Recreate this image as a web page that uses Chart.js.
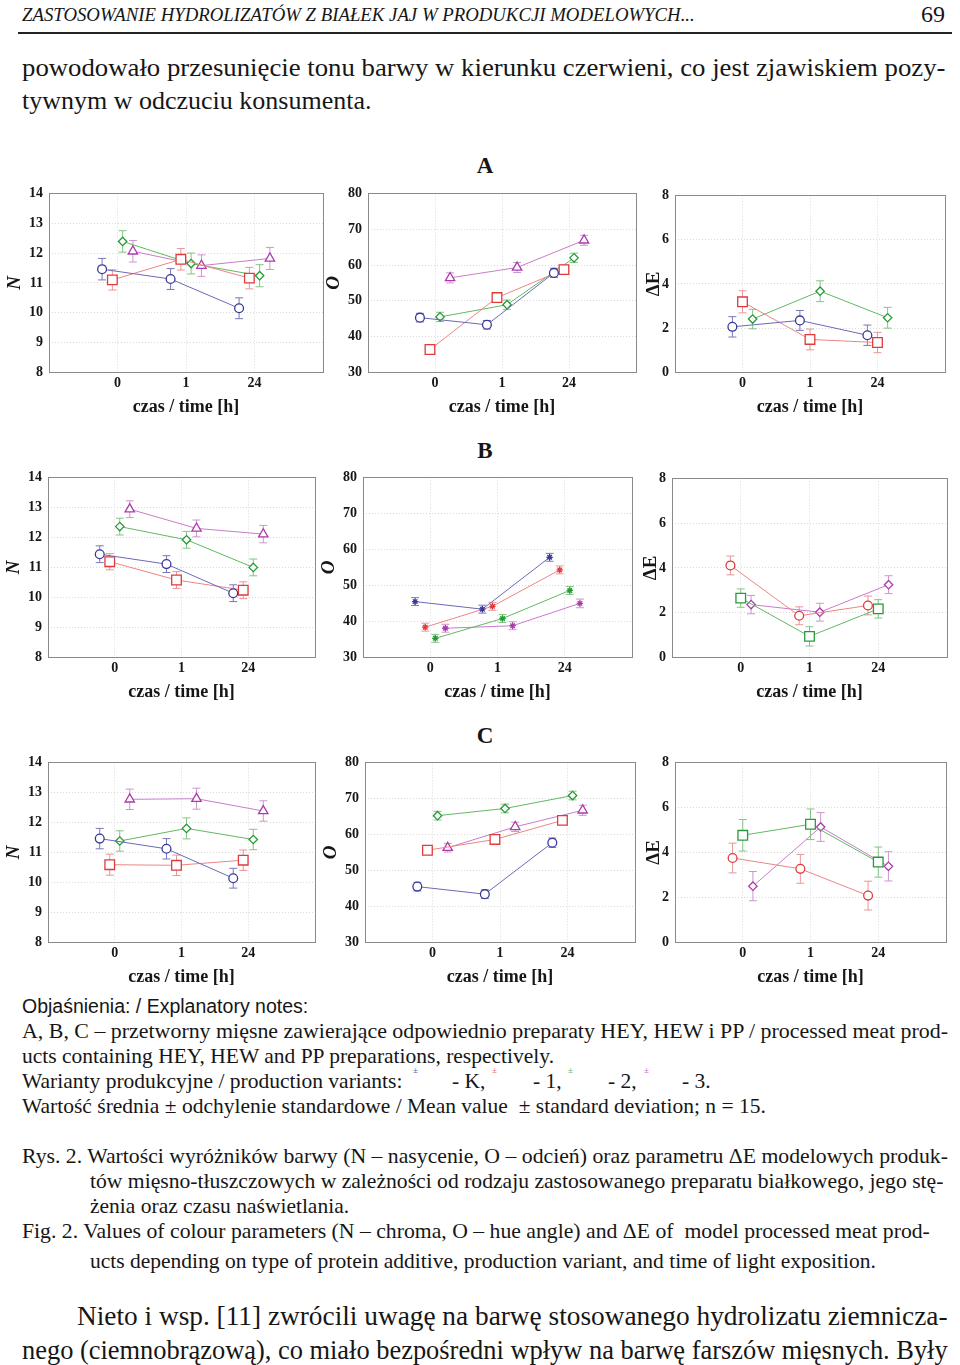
<!DOCTYPE html>
<html>
<head>
<meta charset="utf-8">
<script src="https://cdn.jsdelivr.net/npm/chart.js@4.4.1/dist/chart.umd.min.js"></script>
<style>
  body { margin: 0; background: #fff; }
  #page { position: relative; width: 960px; height: 1365px; overflow: hidden;
          font-family: "Liberation Serif", "Times New Roman", serif; color: #161616; }
  .t { position: absolute; white-space: nowrap; transform-origin: 0 50%; }
  .panel { position: absolute; }
  .sec { position: absolute; width: 40px; text-align: center; font-weight: bold; font-size: 23px; }
  .mk { position: absolute; font-size: 9px; line-height: 9px; }
  .s21 { font-size: 21.5px; line-height: 26px; }
</style>
</head>
<body>
<div id="page">
  <div class="t fit" data-w="673" style="left:22px;top:3px;font-size:18px;line-height:24px;font-style:italic;">ZASTOSOWANIE HYDROLIZATÓW Z BIAŁEK JAJ W PRODUKCJI MODELOWYCH...</div>
  <div class="t" style="left:921px;top:0px;font-size:24px;line-height:28px;">69</div>
  <div style="position:absolute;left:18px;top:32px;width:934px;height:2px;background:#222;"></div>

  <div class="t fit" data-w="923" style="left:22px;top:52px;font-size:26px;line-height:32px;">powodowało przesunięcie tonu barwy w kierunku czerwieni, co jest zjawiskiem pozy-</div>
  <div class="t" style="left:22px;top:85px;font-size:26px;line-height:32px;">tywnym w odczuciu konsumenta.</div>

  <div class="sec" style="left:465px;top:153px;">A</div>
  <div class="sec" style="left:465px;top:438px;">B</div>
  <div class="sec" style="left:465px;top:723px;">C</div>

  <div class="panel" id="p_aN"><canvas></canvas></div>
  <div class="panel" id="p_aO"><canvas></canvas></div>
  <div class="panel" id="p_aE"><canvas></canvas></div>
  <div class="panel" id="p_bN"><canvas></canvas></div>
  <div class="panel" id="p_bO"><canvas></canvas></div>
  <div class="panel" id="p_bE"><canvas></canvas></div>
  <div class="panel" id="p_cN"><canvas></canvas></div>
  <div class="panel" id="p_cO"><canvas></canvas></div>
  <div class="panel" id="p_cE"><canvas></canvas></div>

  <div class="t" style="left:22px;top:994px;font-family:'Liberation Sans',Arial,sans-serif;font-size:19.5px;line-height:24px;">Objaśnienia: / Explanatory notes:</div>
  <div class="t s21 fit" data-w="926" style="left:22px;top:1018px;">A, B, C – przetworny mięsne zawierające odpowiednio preparaty HEY, HEW i PP / processed meat prod-</div>
  <div class="t s21" style="left:22px;top:1043px;">ucts containing HEY, HEW and PP preparations, respectively.</div>
  <div class="t s21" style="left:22px;top:1068px;">Warianty produkcyjne / production variants:</div>
  <div class="mk" style="left:413px;top:1066px;color:#5a5ab0;">±</div>
  <div class="t s21" style="left:452px;top:1068px;">- K,</div>
  <div class="mk" style="left:492px;top:1066px;color:#e07070;">±</div>
  <div class="t s21" style="left:533px;top:1068px;">- 1,</div>
  <div class="mk" style="left:568px;top:1066px;color:#60b060;">±</div>
  <div class="t s21" style="left:608px;top:1068px;">- 2,</div>
  <div class="mk" style="left:644px;top:1066px;color:#c070c0;">±</div>
  <div class="t s21" style="left:682px;top:1068px;">- 3.</div>
  <div class="t s21" style="left:22px;top:1093px;">Wartość średnia ± odchylenie standardowe / Mean value &nbsp;± standard deviation; n = 15.</div>

  <div class="t s21 fit" data-w="926" style="left:22px;top:1143px;">Rys. 2. Wartości wyróżników barwy (N – nasycenie, O – odcień) oraz parametru ΔE modelowych produk-</div>
  <div class="t s21 fit" data-w="853" style="left:90px;top:1168px;">tów mięsno-tłuszczowych w zależności od rodzaju zastosowanego preparatu białkowego, jego stę-</div>
  <div class="t s21" style="left:90px;top:1193px;">żenia oraz czasu naświetlania.</div>
  <div class="t s21 fit" data-w="908" style="left:22px;top:1218px;">Fig. 2. Values of colour parameters (N – chroma, O – hue angle) and ΔE of &nbsp;model processed meat prod-</div>
  <div class="t s21" style="left:90px;top:1248px;">ucts depending on type of protein additive, production variant, and time of light exposition.</div>

  <div class="t fit" data-w="871" style="left:77px;top:1300px;font-size:26.5px;line-height:32px;">Nieto i wsp. [11] zwrócili uwagę na barwę stosowanego hydrolizatu ziemnicza-</div>
  <div class="t fit" data-w="926" style="left:22px;top:1334px;font-size:26.5px;line-height:32px;">nego (ciemnobrązową), co miało bezpośredni wpływ na barwę farszów mięsnych. Były</div>
</div>

<script>
// czas naświetlania
const timeLabels = ['0', '1', '24'];

// A – HEY (rows: series, cols: time)
const aN_mean = [[11.46, 11.13, 10.15], [11.10, 11.79, 11.16], [12.39, 11.65, 11.24], [12.06, 11.58, 11.82]];
const aN_sd   = [[0.36, 0.35, 0.35], [0.34, 0.36, 0.36], [0.36, 0.35, 0.37], [0.36, 0.36, 0.37]];
const aO_mean = [[45.3, 43.3, 57.8], [36.4, 50.9, 58.7], [45.5, 48.9, 62.0], [56.4, 59.3, 66.9]];
const aO_sd   = [[1.2, 1.2, 1.3], [1.3, 1.2, 1.3], [1.3, 1.3, 1.3], [1.4, 1.4, 1.4]];
const aE_mean = [[2.06, 2.35, 1.68], [3.19, 1.49, 1.35], [2.41, 3.67, 2.47]];
const aE_sd   = [[0.46, 0.45, 0.46], [0.50, 0.47, 0.46], [0.44, 0.47, 0.47]];

// B – HEW
const bN_mean = [[11.44, 11.11, 10.14], [11.19, 10.58, 10.24], [12.36, 11.92, 11.00], [12.94, 12.30, 12.11]];
const bN_sd   = [[0.28, 0.28, 0.28], [0.27, 0.28, 0.28], [0.28, 0.28, 0.28], [0.28, 0.28, 0.29]];
const bO_mean = [[45.5, 43.4, 57.8], [38.4, 44.2, 54.3], [35.3, 40.8, 48.6], [38.1, 38.8, 45.0]];
const bO_sd   = [[1.1, 1.1, 1.1], [1.1, 1.1, 1.1], [1.1, 1.1, 1.1], [1.1, 1.1, 1.2]];
const bE_mean = [[4.11, 1.86, 2.32], [2.65, 0.94, 2.17], [2.36, 2.02, 3.25]];
const bE_sd   = [[0.42, 0.40, 0.42], [0.41, 0.43, 0.41], [0.41, 0.40, 0.40]];

// C – PP
const cN_mean = [[11.46, 11.12, 10.14], [10.59, 10.57, 10.74], [11.38, 11.80, 11.43], [12.77, 12.79, 12.38]];
const cN_sd   = [[0.34, 0.34, 0.33], [0.35, 0.34, 0.34], [0.34, 0.35, 0.34], [0.34, 0.35, 0.34]];
const cO_mean = [[45.5, 43.4, 57.7], [55.6, 58.6, 63.9], [65.2, 67.2, 70.8], [56.3, 62.1, 66.7]];
const cO_sd   = [[1.2, 1.2, 1.3], [1.2, 1.1, 1.1], [1.2, 1.2, 1.2], [1.2, 1.3, 1.4]];
const cE_mean = [[3.75, 3.27, 2.08], [4.76, 5.25, 3.57], [2.50, 5.13, 3.38]];
const cE_sd   = [[0.66, 0.64, 0.64], [0.70, 0.68, 0.67], [0.65, 0.64, 0.65]];

// kolory serii: marker, linia, słupek błędu
const palette = {
  blue:    { mark: '#38389a', line: '#6a6ab6', err: '#7878b8' },
  red:     { mark: '#e03a3a', line: '#ee8484', err: '#e89696' },
  green:   { mark: '#279a38', line: '#62b862', err: '#84c484' },
  magenta: { mark: '#ad3aad', line: '#c87cc8', err: '#cc96cc' }
};
const shapeRadius = { circle: 4.4, rect: 6.8, rectRot: 4.2, triangle: 5.4, star: 3.2 };

const styleNO = [['blue', 'circle'], ['red', 'rect'], ['green', 'rectRot'], ['magenta', 'triangle']];
const styleStar = [['blue', 'star'], ['red', 'star'], ['green', 'star'], ['magenta', 'star']];

const yN = { min: 8, max: 14, step: 1, title: 'N', italic: true };
const yO = { min: 30, max: 80, step: 10, title: 'O', italic: true };
const yE = { min: 0, max: 8, step: 2, title: 'ΔE', italic: false };

// plot area boxes [left, top, right, bottom] on page
const panels = [
  { id: 'p_aN', box: [49, 193, 323, 372], yW: 45, y: yN, mean: aN_mean, sd: aN_sd, style: styleNO },
  { id: 'p_aO', box: [368, 193, 636, 372], yW: 45, y: yO, mean: aO_mean, sd: aO_sd, style: styleNO },
  { id: 'p_aE', box: [675, 195, 945, 372], yW: 32, y: yE, mean: aE_mean, sd: aE_sd,
    style: [['blue', 'circle'], ['red', 'rect'], ['green', 'rectRot']] },
  { id: 'p_bN', box: [48, 477, 315, 657], yW: 45, y: yN, mean: bN_mean, sd: bN_sd, style: styleNO },
  { id: 'p_bO', box: [363, 477, 632, 657], yW: 45, y: yO, mean: bO_mean, sd: bO_sd, style: styleStar },
  { id: 'p_bE', box: [672, 478, 947, 657], yW: 32, y: yE, mean: bE_mean, sd: bE_sd,
    style: [['red', 'circle'], ['green', 'rect'], ['magenta', 'rectRot']] },
  { id: 'p_cN', box: [48, 762, 315, 942], yW: 45, y: yN, mean: cN_mean, sd: cN_sd, style: styleNO },
  { id: 'p_cO', box: [365, 762, 635, 942], yW: 45, y: yO, mean: cO_mean, sd: cO_sd, style: styleNO },
  { id: 'p_cE', box: [675, 762, 946, 942], yW: 32, y: yE, mean: cE_mean, sd: cE_sd,
    style: [['red', 'circle'], ['green', 'rect'], ['magenta', 'rectRot']] }
];

const PAD_TOP = 8, PAD_RIGHT = 4, X_H = 48;
const serif = '"Liberation Serif", "Times New Roman", serif';

// słupki błędów (średnia ± SD)
const errorBars = {
  id: 'errorBars',
  beforeDatasetsDraw(chart) {
    const { ctx, scales: { x, y } } = chart;
    ctx.save();
    ctx.lineWidth = 1;
    chart.data.datasets.forEach(ds => {
      ctx.strokeStyle = ds.errColor;
      ds.data.forEach(p => {
        const px = x.getPixelForValue(p.x);
        const top = y.getPixelForValue(p.y + p.sd);
        const bot = y.getPixelForValue(p.y - p.sd);
        ctx.beginPath();
        ctx.moveTo(px, top); ctx.lineTo(px, bot);
        ctx.moveTo(px - 4, top); ctx.lineTo(px + 4, top);
        ctx.moveTo(px - 4, bot); ctx.lineTo(px + 4, bot);
        ctx.stroke();
      });
    });
    ctx.restore();
  }
};

// ramka wykresu
const frame = {
  id: 'frame',
  afterDraw(chart) {
    const { ctx, chartArea: a } = chart;
    ctx.save();
    ctx.strokeStyle = '#8a8a8a';
    ctx.lineWidth = 1;
    ctx.strokeRect(Math.round(a.left) + 0.5, Math.round(a.top) + 0.5,
                   Math.round(a.right - a.left), Math.round(a.bottom - a.top));
    ctx.restore();
  }
};

function makePanel(p) {
  const [l, t, r, b] = p.box;
  const el = document.getElementById(p.id);
  el.style.left = (l - p.yW) + 'px';
  el.style.top = (t - PAD_TOP) + 'px';
  el.style.width = (r - l + p.yW + PAD_RIGHT) + 'px';
  el.style.height = (b - t + PAD_TOP + X_H) + 'px';

  const n = p.mean.length;
  const datasets = p.mean.map((m, i) => {
    const [col, shape] = p.style[i];
    const c = palette[col];
    const off = (i - (n - 1) / 2) * 0.15;
    return {
      data: m.map((v, k) => ({ x: k + off, y: v, sd: p.sd[i][k] })),
      borderColor: c.line,
      borderWidth: 1,
      pointStyle: shape,
      pointRadius: shapeRadius[shape],
      pointBorderColor: c.mark,
      pointBackgroundColor: shape === 'star' ? c.mark : '#ffffff',
      pointBorderWidth: 1.3,
      tension: 0,
      errColor: c.err
    };
  });

  const chart = new Chart(el.querySelector('canvas').getContext('2d'), {
    type: 'line',
    data: { datasets },
    plugins: [errorBars, frame],
    options: {
      responsive: true,
      maintainAspectRatio: false,
      animation: false,
      layout: { padding: { top: PAD_TOP, right: PAD_RIGHT, left: 0, bottom: 0 } },
      plugins: { legend: { display: false }, tooltip: { enabled: false } },
      scales: {
        x: {
          type: 'linear', min: -1, max: 3,
          afterBuildTicks: s => { s.ticks = timeLabels.map((_, i) => ({ value: i })); },
          afterFit: s => { s.height = X_H; },
          ticks: { callback: v => timeLabels[v], color: '#161616', padding: 3, maxRotation: 0, autoSkip: false,
                   font: { family: serif, size: 14, weight: 'bold' } },
          grid: { color: '#dadada', drawTicks: false },
          border: { display: false, dash: [1, 2] },
          title: { display: true, text: 'czas / time [h]', color: '#161616', padding: { top: 0, bottom: 2 },
                   font: { family: serif, size: 18, weight: 'bold' } }
        },
        y: {
          min: p.y.min, max: p.y.max,
          afterFit: s => { s.width = p.yW; },
          ticks: { stepSize: p.y.step, color: '#161616', padding: 6,
                   font: { family: serif, size: 14, weight: 'bold' } },
          grid: { color: '#dadada', drawTicks: false },
          border: { display: false, dash: [1, 2] },
          title: { display: true, text: p.y.title, color: '#161616', padding: 0,
                   font: { family: serif, size: 19, weight: 'bold', style: p.y.italic ? 'italic' : 'normal' } }
        }
      }
    }
  });

  // dopasuj obszar wykresu do pozycji z oryginału
  for (let k = 0; k < 3; k++) {
    const a = chart.chartArea;
    el.style.width = (el.offsetWidth + (r - l) - (a.right - a.left)) + 'px';
    el.style.height = (el.offsetHeight + (b - t) - (a.bottom - a.top)) + 'px';
    chart.resize();
    el.style.left = (l - chart.chartArea.left) + 'px';
    el.style.top = (t - chart.chartArea.top) + 'px';
  }
}

panels.forEach(makePanel);

// wiersze tekstu rozciągnięte do szerokości kolumny
document.querySelectorAll('.fit').forEach(el => {
  const w = +el.dataset.w;
  el.style.transform = 'scaleX(' + (w / el.scrollWidth) + ')';
});
</script>
</body>
</html>
